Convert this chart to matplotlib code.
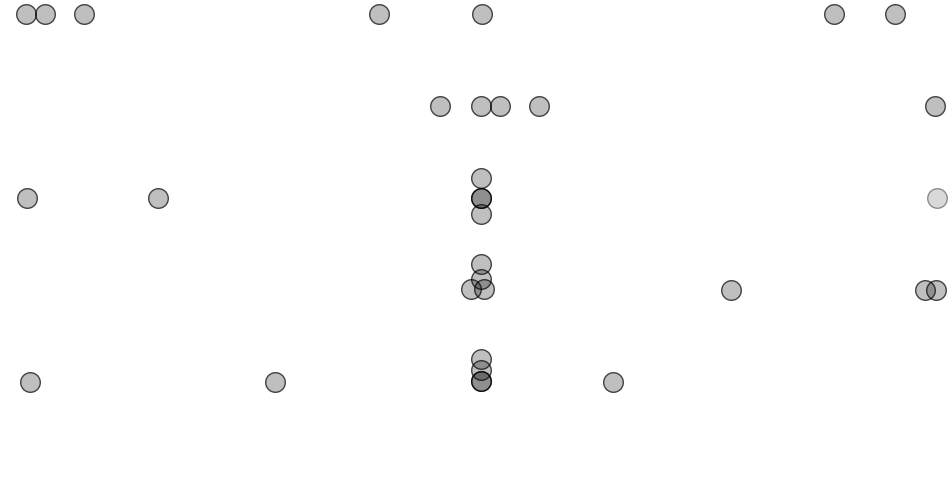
import matplotlib
matplotlib.use("Agg")
import matplotlib.pyplot as plt

# rows of a strip chart: row index, position along x, small vertical offset (in row units)
row_0_x = [26, 45, 84, 379, 482, 834, 895]
row_1_x = [440, 481, 500, 539, 935]
row_2_x = [27, 158, 481, 481, 481, 481]
row_2_dy = [0, 0, -0.22, 0, 0, 0.17]
row_3_x = [481, 481, 471, 484, 731, 925, 936]
row_3_dy = [-0.28, -0.12, -0.01, -0.01, 0, 0, 0]
row_4_x = [30, 275, 481, 481, 481, 481, 613]
row_4_dy = [0, 0, -0.25, -0.13, -0.01, -0.01, 0]

# the one faded point (row 2, far right)
faded_x = [937]
faded_row = [2]

rows = [row_0_x, row_1_x, row_2_x, row_3_x, row_4_x]
offsets = [[0] * len(row_0_x), [0] * len(row_1_x), row_2_dy, row_3_dy, row_4_dy]

xs, ys = [], []
for i, (r, d) in enumerate(zip(rows, offsets)):
    xs += r
    ys += [i + o for o in d]

fig = plt.figure(figsize=(9.52, 4.78), dpi=100)
ax = fig.add_axes([0, 0, 1, 1])
ax.scatter(xs, ys, s=200, facecolors=(0, 0, 0, 0.25),
           edgecolors=(0, 0, 0, 0.7), linewidths=1.0)
ax.scatter(faded_x, faded_row, s=200, facecolors=(0, 0, 0, 0.15),
           edgecolors=(0, 0, 0, 0.4), linewidths=1.0)
ax.set_xlim(0, 952)
ax.set_ylim(5.04, -0.152)
ax.axis("off")

fig.savefig("out.png", dpi=100, facecolor="white")
